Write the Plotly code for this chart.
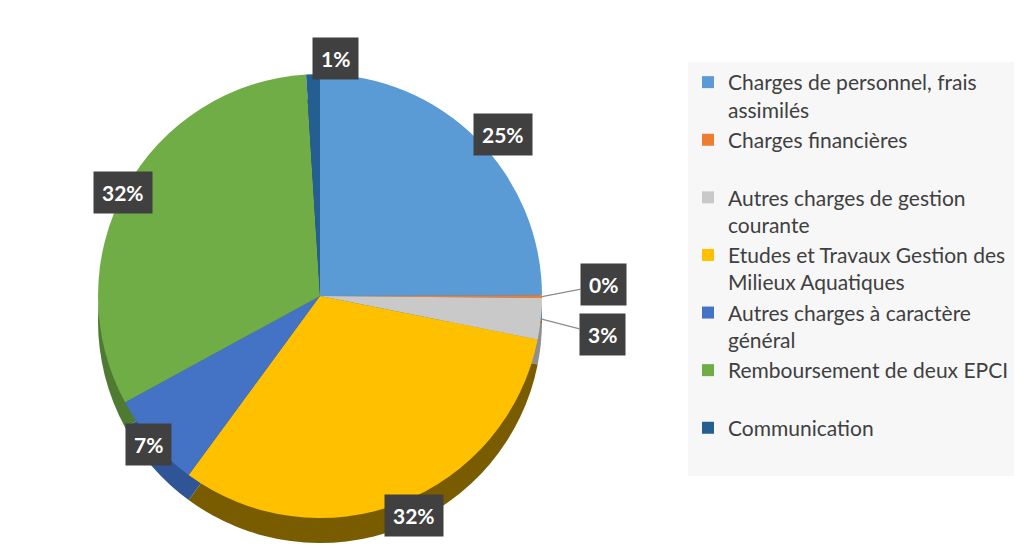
import math
import plotly.graph_objects as go

# ---- data ----
categories = [
    "Charges de personnel, frais<br>assimilés",
    "Charges financières<br> ",
    "Autres charges de gestion<br>courante",
    "Etudes et Travaux Gestion des<br>Milieux Aquatiques",
    "Autres charges à caractère<br>général",
    "Remboursement de deux EPCI<br> ",
    "Communication<br> ",
]
values = [25, 0.2, 3, 32, 7, 32, 1]
colors = ["#5B9BD5", "#ED7D31", "#C9C9C9", "#FFC000", "#4472C4", "#70AD47", "#255E91"]
side_colors = ["#3f72a0", "#a5541f", "#8f8f8f", "#7a5c00", "#2f5597", "#4e7a31", "#1a4266"]

W, H = 1031, 549
cx, cy, R = 312, 288, 222
depth = 25

def dom(cxp, cyp, r):
    return dict(x=[(cxp - r) / W, (cxp + r) / W], y=[1 - (cyp + r) / H, 1 - (cyp - r) / H])

fig = go.Figure()
# pseudo 3D side
fig.add_trace(go.Pie(
    labels=categories, values=values, sort=False, direction="clockwise",
    marker=dict(colors=side_colors, line=dict(width=0)), textinfo="none",
    hoverinfo="skip", showlegend=False, domain=dom(cx, cy + depth, R),
))
fig.add_trace(go.Pie(
    labels=categories, values=values, sort=False, direction="clockwise",
    marker=dict(colors=colors, line=dict(width=0)), textinfo="none",
    domain=dom(cx, cy, R),
))

# ---- labels ----
total = sum(values)
labels = []
cum = 0
for v in values:
    th = 2 * math.pi * (cum + v / 2) / total
    cum += v
    r = R + 37
    labels.append(dict(
        text=f"{v / total:.0%}",
        lx=cx + r * math.sin(th),
        ly=cy - r * math.cos(th),
        ex=cx + R * math.sin(th),
        ey=cy - R * math.cos(th),
        leader=False,
    ))

# resolve overlaps (vertical spreading)
order = sorted(range(len(labels)), key=lambda i: labels[i]["ly"])
for a_i in range(len(order)):
    for b_i in range(a_i):
        a, b = labels[order[a_i]], labels[order[b_i]]
        if abs(a["lx"] - b["lx"]) < 75 and a["ly"] - b["ly"] < 50:
            push = 50 - (a["ly"] - b["ly"])
            a["ly"] += push / 2
            b["ly"] -= push / 2
            a["leader"] = b["leader"] = True

for L in labels:
    if L["leader"]:
        L["lx"] += 25

for L in labels:
    common = dict(
        text=f"<b>{L['text']}</b>", xref="paper", yref="paper",
        bgcolor="#404040", borderpad=8,
        font=dict(family="Lato", size=21, color="white"),
    )
    if L["leader"]:
        fig.add_annotation(
            x=L["ex"] / W, y=1 - L["ey"] / H, showarrow=True, arrowhead=0,
            arrowcolor="#8c8c8c", arrowwidth=1.2,
            ax=L["lx"] - L["ex"], ay=L["ly"] - L["ey"], **common,
        )
    else:
        fig.add_annotation(x=L["lx"] / W, y=1 - L["ly"] / H, showarrow=False, **common)

fig.update_layout(
    width=W, height=H,
    margin=dict(l=0, r=0, t=0, b=0),
    paper_bgcolor="white", plot_bgcolor="white",
    legend=dict(
        x=680 / W, y=1 - 54 / H, xanchor="left", yanchor="top",
        bgcolor="#F7F7F7", font=dict(family="Lato", size=21, color="#404040"),
        traceorder="normal", valign="top",
    ),
)

fig.write_html("out.html")
